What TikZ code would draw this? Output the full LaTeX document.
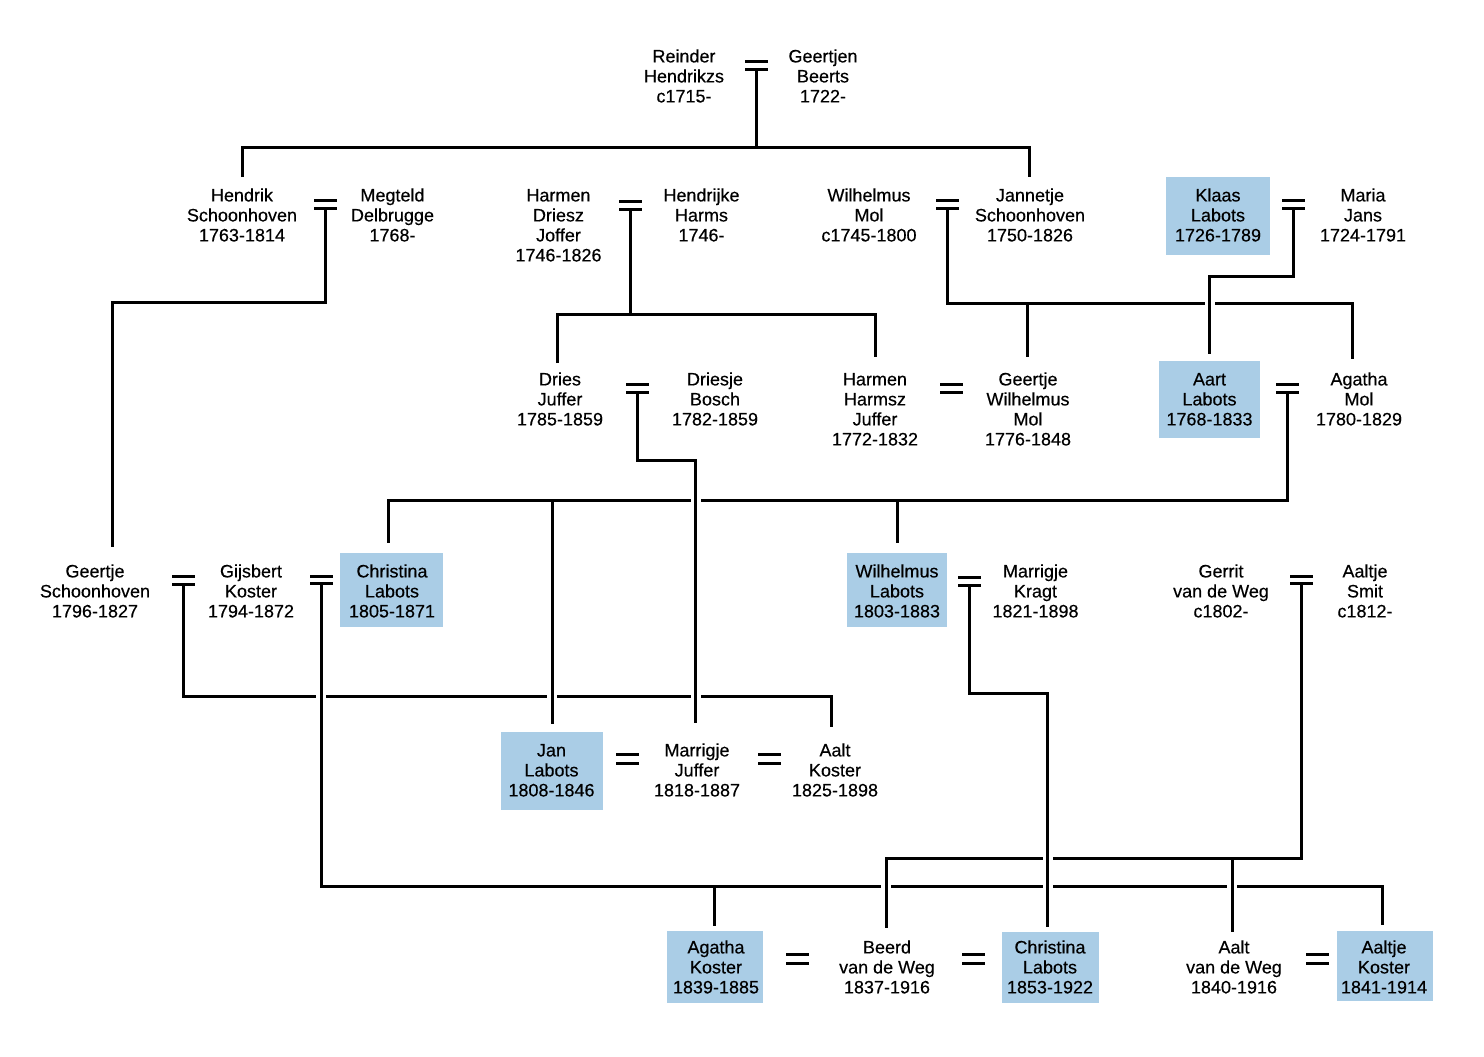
\documentclass[tikz,border=0pt]{standalone}
\usepackage{fontspec}
\setmainfont{Liberation Sans}[FakeBold=0.35]
\usetikzlibrary{calc,fit}
\definecolor{boxblue}{RGB}{170,205,230}
\newcommand\pfont{\fontsize{9}{10}\selectfont}
\newcommand\myst{\rule{0pt}{7pt}}
\newcommand\bridge[1]{%
  \fill[white] ($(#1)+(-5,-3)$) rectangle ($(#1)+(5,3)$);
  \draw[line] ($(#1)+(0,-4.5)$) -- ($(#1)+(0,4.5)$);}
\begin{document}
\begin{tikzpicture}[x=0.5pt,y=-0.5pt,
  line/.style={line width=1.5pt},
  person/.style={anchor=north,inner sep=0pt,align=center,font=\pfont},
  pbox/.style={fill=boxblue,inner sep=0pt,draw=none},
  marr/.style={inner sep=0pt,outer sep=0pt,minimum width=11.5pt,minimum height=5.4pt},
  marrw/.style={marr,minimum height=6pt}]
\fill[white] (0,0) rectangle (1484,1056);
\useasboundingbox (0,0) rectangle (1484,1056);

% blue boxes
\node[pbox,fit={(1166,177)(1270,255)}] (klaasbox) {};
\node[pbox,fit={(1159,361)(1260,438)}] (aartbox) {};
\node[pbox,fit={(340,553)(443,627)}] (christinabox) {};
\node[pbox,fit={(847,553)(947,627)}] (wilhelmuslbox) {};
\node[pbox,fit={(501,732)(603,810)}] (janbox) {};
\node[pbox,fit={(667,931)(763,1003)}] (agathakbox) {};
\node[pbox,fit={(1002,932)(1099,1003)}] (christinabbox) {};
\node[pbox,fit={(1337,931)(1433,1001)}] (aaltjekbox) {};

% persons
\node[person] (reinder) at (684,48) {\myst Reinder\\Hendrikzs\\c1715-};
\node[person] (geertjen) at (823,48) {\myst Geertjen\\Beerts\\1722-};
\node[person] (hendrik) at (242,187) {\myst Hendrik\\Schoonhoven\\1763-1814};
\node[person] (megteld) at (392.5,187) {\myst Megteld\\Delbrugge\\1768-};
\node[person] (harmend) at (558.5,187) {\myst Harmen\\Driesz\\Joffer\\1746-1826};
\node[person] (hendrijke) at (701.5,187) {\myst Hendrijke\\Harms\\1746-};
\node[person] (wilhelmusm) at (869,187) {\myst Wilhelmus\\Mol\\c1745-1800};
\node[person] (jannetje) at (1030,187) {\myst Jannetje\\Schoonhoven\\1750-1826};
\node[person] (klaas) at (1218,187) {\myst Klaas\\Labots\\1726-1789};
\node[person] (maria) at (1363,187) {\myst Maria\\Jans\\1724-1791};
\node[person] (dries) at (560,371) {\myst Dries\\Juffer\\1785-1859};
\node[person] (driesje) at (715,371) {\myst Driesje\\Bosch\\1782-1859};
\node[person] (harmenh) at (875,371) {\myst Harmen\\Harmsz\\Juffer\\1772-1832};
\node[person] (geertjew) at (1028,371) {\myst Geertje\\Wilhelmus\\Mol\\1776-1848};
\node[person] (aart) at (1209.5,371) {\myst Aart\\Labots\\1768-1833};
\node[person] (agathamol) at (1359,371) {\myst Agatha\\Mol\\1780-1829};
\node[person] (geertjes) at (95,563) {\myst Geertje\\Schoonhoven\\1796-1827};
\node[person] (gijsbert) at (251,563) {\myst Gijsbert\\Koster\\1794-1872};
\node[person] (christina) at (392,563) {\myst Christina\\Labots\\1805-1871};
\node[person] (wilhelmusl) at (897,563) {\myst Wilhelmus\\Labots\\1803-1883};
\node[person] (marrigjek) at (1035.5,563) {\myst Marrigje\\Kragt\\1821-1898};
\node[person] (gerrit) at (1221,563) {\myst Gerrit\\van de Weg\\c1802-};
\node[person] (aaltjes) at (1365,563) {\myst Aaltje\\Smit\\c1812-};
\node[person] (jan) at (551.5,742) {\myst Jan\\Labots\\1808-1846};
\node[person] (marrigjej) at (697,742) {\myst Marrigje\\Juffer\\1818-1887};
\node[person] (aaltk) at (835,742) {\myst Aalt\\Koster\\1825-1898};
\node[person] (agathak) at (716,939) {\myst Agatha\\Koster\\1839-1885};
\node[person] (beerd) at (887,939) {\myst Beerd\\van de Weg\\1837-1916};
\node[person] (christinab) at (1050,939) {\myst Christina\\Labots\\1853-1922};
\node[person] (aaltw) at (1234,939) {\myst Aalt\\van de Weg\\1840-1916};
\node[person] (aaltjek) at (1384,939) {\myst Aaltje\\Koster\\1841-1914};

% marriage symbols
\node[marr] (m1) at (756.5,65.3) {};
\node[marr] (m2) at (325.3,204.5) {};
\node[marr] (m3) at (630.5,205.5) {};
\node[marr] (m4) at (947,204.7) {};
\node[marr] (m5) at (1293.3,204.3) {};
\node[marr] (e1) at (951.3,388.8) {};
\node[marr] (m6) at (637.3,388.3) {};
\node[marr] (m7) at (1287,388.3) {};
\node[marr] (m8) at (183,580.2) {};
\node[marr] (m9) at (321,580) {};
\node[marr] (m10) at (969.6,581.3) {};
\node[marr] (m11) at (1301,580) {};
\node[marrw] (e2) at (627.3,758.5) {};
\node[marrw] (e3) at (769.7,758.5) {};
\node[marrw] (e4) at (797.5,958.8) {};
\node[marrw] (e5) at (973,958.8) {};
\node[marrw] (e6) at (1317,958.8) {};
\foreach \m in {m1,m2,m3,m4,m5,m6,m7,m8,m9,m10,m11,e1,e2,e3,e4,e5,e6}{
  \fill (\m.north west) rectangle ([yshift=-1.5pt]\m.north east);
  \fill ([yshift=1.5pt]\m.south west) rectangle (\m.south east);
}

% bus levels
\coordinate (lv1) at (0,147);
\coordinate (lv2) at (0,302.5);
\coordinate (lv3) at (0,314.3);
\coordinate (lv4) at (0,303.5);
\coordinate (lv5) at (0,276.5);
\coordinate (lv6) at (0,460);
\coordinate (lv7) at (0,500);
\coordinate (lv8) at (0,696);
\coordinate (lv9) at (0,886.7);
\coordinate (lv10) at (0,693.5);
\coordinate (lv11) at (0,858);

% descent lines
\draw[line] (m1.south) -- (m1.south |- lv1);
\draw[line] ($(hendrik.north)+(0,-10)$) |- ($(lv1 -| jannetje.north)+(-1,0)$) -- ($(jannetje.north)+(-1,-10)$);

\draw[line] (m2.south) -- (m2.south |- lv2) -| ($(geertjes.north)+(17,-16)$);

\draw[line] (m3.south) -- (m3.south |- lv3);
\draw[line] ($(dries.north)+(-3,-8)$) |- (lv3 -| harmenh.north) -- ($(harmenh.north)+(0,-14)$);

\draw[line] (m4.south) -- (m4.south |- lv4) -| ($(agathamol.north)+(-7,-12)$);
\draw[line] ($(lv4 -| geertjew.north)+(-1,0)$) -- ($(geertjew.north)+(-1,-14)$);

\draw[line] (m5.south) -- (m5.south |- lv5) -| ($(aartbox.north)+(0,-7)$);

\draw[line] (m7.south) -- (m7.south |- lv7) -| ($(christinabox.north)+(-3,-10)$);
\draw[line] (lv7 -| janbox.north) -- ($(janbox.north)+(0,-8)$);
\draw[line] (lv7 -| wilhelmuslbox.north) -- ($(wilhelmuslbox.north)+(0,-10)$);

\draw[line] (m6.south) -- (m6.south |- lv6) -| ($(marrigjej.north)+(-1.5,-19)$);

\draw[line] (m8.south) -- (m8.south |- lv8) -| ($(aaltk.north)+(-4,-15)$);

\draw[line] (m9.south) -- (m9.south |- lv9) -| ($(aaltjekbox.north)+(-3,-6)$);
\draw[line] ($(lv9 -| agathakbox.north)+(-1,0)$) -- ($(agathakbox.north)+(-1,-5)$);

\draw[line] (m10.south) -- (m10.south |- lv10) -| ($(christinabbox.north)+(-3,-5)$);

\draw[line] (m11.south) -- (m11.south |- lv11) -| ($(beerd.north)+(-1,-11)$);
\draw[line] ($(lv11 -| aaltw.north)+(-2,0)$) -- ($(aaltw.north)+(-2,-7)$);

% crossings: horizontal broken under vertical
\coordinate (x1) at (lv4 -| aartbox.north);
\coordinate (x2) at ($(lv7 -| marrigjej.north)+(-1.5,0)$);
\coordinate (x3) at (lv8 -| m9.south);
\coordinate (x4) at (lv8 -| janbox.north);
\coordinate (x5) at ($(lv8 -| marrigjej.north)+(-1.5,0)$);
\coordinate (x6) at ($(lv11 -| christinabbox.north)+(-3,0)$);
\coordinate (x7) at ($(lv9 -| beerd.north)+(-1,0)$);
\coordinate (x8) at ($(lv9 -| christinabbox.north)+(-3,0)$);
\coordinate (x9) at ($(lv9 -| aaltw.north)+(-2,0)$);
\foreach \i in {1,...,9}{\bridge{x\i}}
\end{tikzpicture}
\end{document}
